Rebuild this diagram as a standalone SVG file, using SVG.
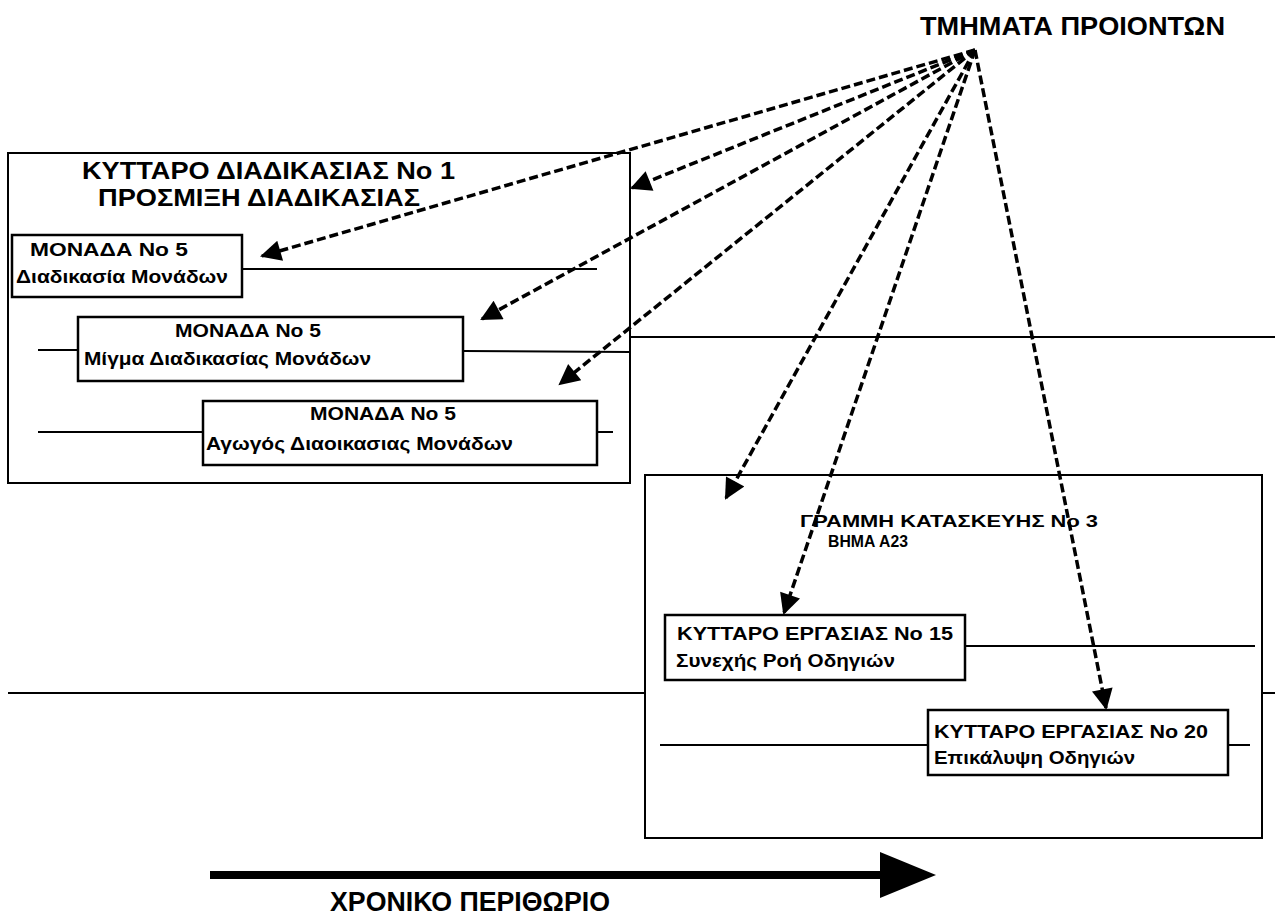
<svg xmlns="http://www.w3.org/2000/svg" width="1275" height="916" viewBox="0 0 1275 916">
  <defs>
    <marker id="head" viewBox="0 0 10 10" refX="9" refY="5" markerWidth="7" markerHeight="6" markerUnits="strokeWidth" orient="auto">
      <path d="M0,0 L10,5 L0,10 Z" fill="#000"/>
    </marker>
    <style>
      .box { fill: #fff; stroke: #000; stroke-width: 2.5; }
      .frame { fill: none; stroke: #000; stroke-width: 2; }
      .rule { stroke: #000; stroke-width: 2; fill: none; }
      .dash { stroke: #000; stroke-width: 3.5; stroke-dasharray: 9 4; fill: none; marker-end: url(#head); }
      .t { font-family: "Liberation Sans", Arial, sans-serif; font-weight: bold; fill: #000; }
    </style>
  </defs>
  <rect width="1275" height="916" fill="#fff"/>

  <!-- timeline rules -->
  <g id="rules">
    <line class="rule" x1="630" y1="337" x2="1275" y2="337"/>
    <line class="rule" x1="8" y1="693" x2="645" y2="693"/>
    <line class="rule" x1="1262" y1="693" x2="1275" y2="693"/>
  </g>

  <!-- process cell 1 -->
  <g id="cell1">
    <rect class="frame" x="8" y="153" width="622" height="330"/>
    <text class="t" x="82" y="179" font-size="23" textLength="373" lengthAdjust="spacingAndGlyphs">ΚΥΤΤΑΡΟ ΔΙΑΔΙΚΑΣΙΑΣ No 1</text>
    <text class="t" x="98" y="206" font-size="23" textLength="322" lengthAdjust="spacingAndGlyphs">ΠΡΟΣΜΙΞΗ ΔΙΑΔΙΚΑΣΙΑΣ</text>
  </g>

  <g id="unit1">
    <line class="rule" x1="242" y1="269" x2="597" y2="269"/>
    <rect class="box" x="12" y="235" width="230" height="62"/>
    <text class="t" x="30" y="256" font-size="19" textLength="158" lengthAdjust="spacingAndGlyphs">ΜΟΝΑΔΑ No 5</text>
    <text class="t" x="16" y="283" font-size="19" textLength="212" lengthAdjust="spacingAndGlyphs">Διαδικασία Μονάδων</text>
  </g>

  <g id="unit2">
    <line class="rule" x1="38" y1="350" x2="78" y2="350"/>
    <line class="rule" x1="463" y1="351" x2="630" y2="352"/>
    <rect class="box" x="78" y="317" width="385" height="64"/>
    <text class="t" x="175" y="337" font-size="19" textLength="146" lengthAdjust="spacingAndGlyphs">ΜΟΝΑΔΑ No 5</text>
    <text class="t" x="84" y="365" font-size="19" textLength="287" lengthAdjust="spacingAndGlyphs">Μίγμα Διαδικασίας Μονάδων</text>
  </g>

  <g id="unit3">
    <line class="rule" x1="38" y1="432" x2="203" y2="432"/>
    <line class="rule" x1="597" y1="432" x2="613" y2="432"/>
    <rect class="box" x="203" y="401" width="394" height="64"/>
    <text class="t" x="310" y="420" font-size="19" textLength="146" lengthAdjust="spacingAndGlyphs">ΜΟΝΑΔΑ No 5</text>
    <text class="t" x="206" y="450" font-size="19" textLength="307" lengthAdjust="spacingAndGlyphs">Αγωγός Διαοικασιας Μονάδων</text>
  </g>

  <!-- production line 3 -->
  <g id="line3">
    <rect class="frame" x="645" y="475" width="617" height="363"/>
    <text class="t" x="800" y="527" font-size="17" textLength="298" lengthAdjust="spacingAndGlyphs">ΓΡΑΜΜΗ ΚΑΤΑΣΚΕΥΗΣ  No 3</text>
    <text class="t" x="828" y="547" font-size="17" textLength="80" lengthAdjust="spacingAndGlyphs">ΒΗΜΑ Α23</text>
  </g>

  <g id="work15">
    <line class="rule" x1="965" y1="646" x2="1255" y2="646"/>
    <rect class="box" x="665" y="615" width="300" height="65"/>
    <text class="t" x="677" y="640" font-size="19" textLength="276" lengthAdjust="spacingAndGlyphs">ΚΥΤΤΑΡΟ ΕΡΓΑΣΙΑΣ  No 15</text>
    <text class="t" x="676" y="667" font-size="19" textLength="219" lengthAdjust="spacingAndGlyphs">Συνεχής Ροή Οδηγιών</text>
  </g>

  <g id="work20">
    <line class="rule" x1="660" y1="745" x2="928" y2="745"/>
    <line class="rule" x1="1228" y1="745" x2="1250" y2="745"/>
    <rect class="box" x="928" y="710" width="300" height="65"/>
    <text class="t" x="934" y="738" font-size="19" textLength="274" lengthAdjust="spacingAndGlyphs">ΚΥΤΤΑΡΟ ΕΡΓΑΣΙΑΣ No 20</text>
    <text class="t" x="934" y="764" font-size="19" textLength="201" lengthAdjust="spacingAndGlyphs">Επικάλυψη Οδηγιών</text>
  </g>

  <!-- product parts source -->
  <g id="parts">
    <text class="t" x="920" y="35" font-size="26" textLength="305" lengthAdjust="spacingAndGlyphs">ΤΜΗΜΑΤΑ ΠΡΟΙΟΝΤΩΝ</text>
  </g>

  <!-- dashed connectors -->
  <g id="connectors">
    <line class="dash" x1="975" y1="50" x2="262" y2="256"/>
    <line class="dash" x1="975" y1="50" x2="632" y2="188"/>
    <line class="dash" x1="975" y1="50" x2="482" y2="319"/>
    <line class="dash" x1="975" y1="50" x2="560" y2="384"/>
    <line class="dash" x1="975" y1="50" x2="726" y2="498"/>
    <line class="dash" x1="975" y1="50" x2="784" y2="613"/>
    <line class="dash" x1="975" y1="50" x2="1106" y2="708"/>
  </g>

  <!-- time axis -->
  <g id="timeline">
    <line x1="210" y1="875" x2="885" y2="875" stroke="#000" stroke-width="8"/>
    <path d="M880,852 L936,875 L880,898 Z" fill="#000"/>
    <text class="t" x="330" y="911" font-size="27" textLength="280" lengthAdjust="spacingAndGlyphs">ΧΡΟΝΙΚΟ ΠΕΡΙΘΩΡΙΟ</text>
  </g>
</svg>
